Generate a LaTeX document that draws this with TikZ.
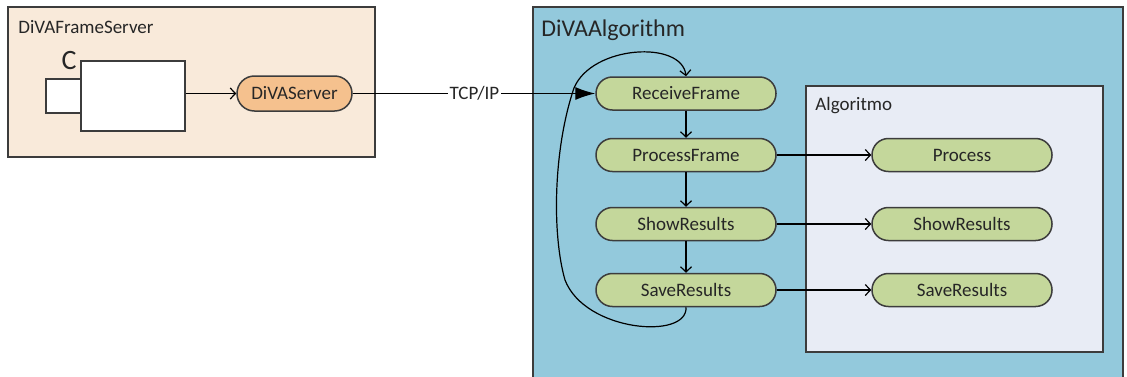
\documentclass[tikz,border=0pt]{standalone}
\usepackage{fontspec}
\setmainfont{Carlito}
\usetikzlibrary{arrows.meta}
\definecolor{peach}{RGB}{249,234,218}
\definecolor{skyb}{RGB}{147,201,220}
\definecolor{algbg}{RGB}{232,236,245}
\definecolor{greenn}{RGB}{196,215,155}
\definecolor{orangen}{RGB}{245,193,142}
\definecolor{bord}{RGB}{60,60,60}
\tikzset{
  act/.style={draw=bord, line width=0.75pt, fill=greenn, rounded corners=8.2pt,
    minimum width=90pt, minimum height=16.5pt, inner sep=0pt,
    font=\fontsize{9.5}{11}\selectfont, text=black!85},
  frame/.style={draw=bord, line width=0.7pt},
  conn/.style={line width=0.6pt, black},
  barb/.style={conn, -{Straight Barb[length=2.6pt,width=5.5pt]}},
  lbl/.style={font=\fontsize{9.5}{11}\selectfont, text=black!85, inner sep=0pt, anchor=west}
}
\begin{document}
\begin{tikzpicture}[x=0.5pt,y=-0.5pt]
\useasboundingbox (0,0) rectangle (1127,376);
\fill[white] (0,0) rectangle (1127,376);
% frames
\draw[frame, fill=peach] (8,7) rectangle (375,157);
\node[lbl] (t1) at (18,27) {DiVAFrameServer};
\draw[frame, fill=skyb] (533,7) rectangle (1123,390);
\node[lbl, font=\fontsize{12}{14}\selectfont] (t2) at (541,30) {DiVAAlgorithm};
\draw[frame, fill=algbg] (806,86) rectangle (1103,352);
\node[lbl] (t3) at (815,106) {Algoritmo};
% camera
\node[draw=bord, line width=0.7pt, fill=white, minimum width=17.5pt, minimum height=17pt, inner sep=0pt] (lens) at (63.5,96) {};
\node[draw=bord, line width=0.7pt, fill=white, minimum width=52pt, minimum height=35pt, inner sep=0pt] (cam) at (133,96) {};
\node[font=\fontsize{14}{16}\selectfont, text=black!85, inner sep=0pt] (c) at (69,61) {C};
% server
\node[act, fill=orangen, minimum width=57.5pt, minimum height=17.5pt, rounded corners=8.7pt] (ds) at (294.5,93.5) {DiVAServer};
% algorithm nodes
\node[act] (rf) at (686,93.5) {ReceiveFrame};
\node[act] (pf) at (686,155) {ProcessFrame};
\node[act] (sr) at (686,224) {ShowResults};
\node[act] (sv) at (686,290) {SaveResults};
\node[act] (p2) at (962,155) {Process};
\node[act] (s2) at (962,224) {ShowResults};
\node[act] (v2) at (962,290) {SaveResults};
% connectors
\draw[barb] (cam.east |- ds.west) -- (ds.west);
\draw[conn] (ds.east) -- node[pos=0.675, fill=white, inner sep=1pt, font=\fontsize{9.5}{11}\selectfont, text=black!85] (tcp) {TCP/IP} (533,93.5);
\draw[conn, -{Latex[length=10pt,width=6.5pt]}] (533,93.5) -- (rf.west);
\draw[barb] (rf.south) -- (pf.north);
\draw[barb] (pf.south) -- (sr.north);
\draw[barb] (sr.south) -- (sv.north);
\draw[barb] (pf.east) -- (p2.west);
\draw[barb] (sr.east) -- (s2.west);
\draw[barb] (sv.east) -- (v2.west);
\draw[barb] (sv.south) .. controls (688,340) and (585,332) .. (565,280)
  .. controls (552,235) and (553,150) .. (574,88)
  .. controls (592,45) and (682,40) .. (rf.north);
\end{tikzpicture}
\end{document}
